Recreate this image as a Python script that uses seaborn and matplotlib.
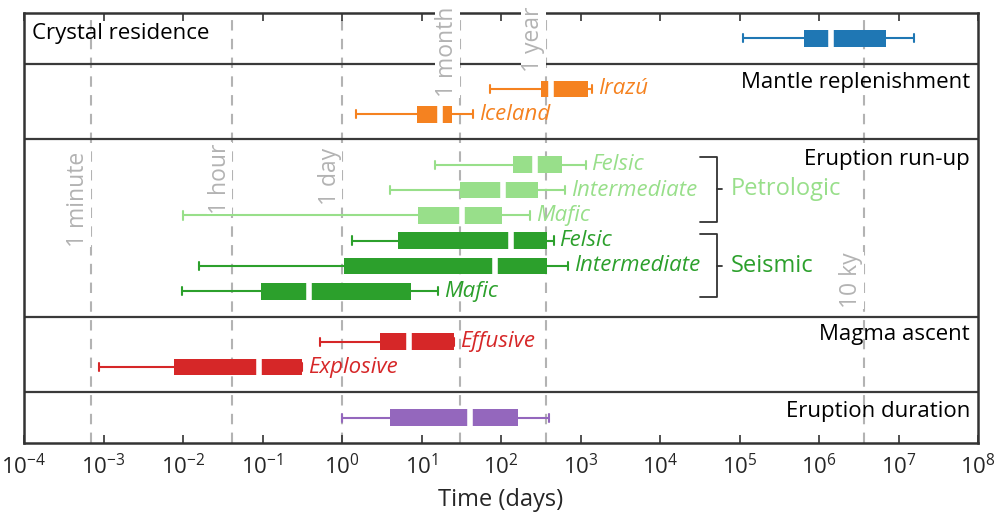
import numpy as np
import pandas as pd
import seaborn as sns
import matplotlib.pyplot as plt
import matplotlib.transforms as mtransforms

# five-number summaries (min, q1, median, q3, max) in days
crystal = [1.1e5, 6.5e5, 1.42e6, 6.9e6, 1.55e7]
irazu = [73, 318, 426, 1240, 1400]
iceland = [1.5, 8.7, 17, 24.4, 45]
petro_felsic = [14.8, 140, 270, 580, 1170]
petro_inter = [4.0, 30.5, 106, 290, 640]
petro_mafic = [0.0101, 9.1, 32.5, 102, 232]
seis_felsic = [1.35, 5.1, 135, 376, 464]
seis_inter = [0.016, 1.06, 85, 376, 700]
seis_mafic = [0.0098, 0.095, 0.39, 7.3, 16.3]
effusive = [0.53, 3.0, 6.95, 26, 26]
explosive = [8.7e-4, 0.0076, 0.090, 0.317, 0.317]
duration = [1.0, 3.97, 40.5, 166, 404]

row_stats = [crystal, irazu, iceland, petro_felsic, petro_inter, petro_mafic,
             seis_felsic, seis_inter, seis_mafic, effusive, explosive, duration]
row_labels = [None, "Irazú", "Iceland", "Felsic", "Intermediate", "Mafic",
              "Felsic", "Intermediate", "Mafic", "Effusive", "Explosive", None]
row_slots = [1, 3, 4, 6, 7, 8, 9, 10, 11, 13, 14, 16]
row_colors = ["#1f77b4", "#f58220", "#f58220", "#98df8a", "#98df8a", "#98df8a",
              "#2ca02c", "#2ca02c", "#2ca02c", "#d62728", "#d62728", "#9467bd"]

panel_titles = ["Mantle replenishment", "Eruption run-up", "Magma ascent", "Eruption duration"]
panel_title_y = [2.73, 5.81, 12.73, 15.74]
separators = [2, 5, 12, 15]

ref_names = ["1 minute", "1 hour", "1 day", "1 month", "1 year", "10 ky"]
ref_days = [1 / 1440, 1 / 24, 1, 30.4, 365.25, 3.6525e6]
ref_label_y = [7.35, 6.54, 6.47, 1.54, 1.03, 10.56]

records = []
for stats, slot, color in zip(row_stats, row_slots, row_colors):
    for v in stats:
        records.append({"days": v, "slot": slot, "color": color})
df = pd.DataFrame(records)

sns.set_theme(style="white")
plt.rcParams["font.family"] = ["Open Sans", "DejaVu Sans"]

fig = plt.figure(figsize=(9.99, 5.19), dpi=100)
ax = fig.add_axes([24 / 999, 76 / 519, 954 / 999, 430 / 519])
ax.set_xscale("log")

for color, sub in df.groupby("color", sort=False):
    sns.boxplot(data=sub, x="days", y="slot", orient="y", native_scale=True,
                color=color, linecolor=color, saturation=1, whis=(0, 100),
                width=0.66, linewidth=1.5, showfliers=False,
                boxprops=dict(linewidth=0),
                medianprops=dict(color="white", linewidth=4, solid_capstyle="butt"),
                ax=ax, zorder=3)

# reference time lines
grey = "#b3b3b3"
for d, name, ly in zip(ref_days, ref_names, ref_label_y):
    ax.axvline(d, color=grey, lw=1.5, dashes=(5, 4), zorder=0.5)
    ax.annotate(name, (d, ly), xytext=(-9, 0), textcoords="offset points",
                rotation=90, ha="center", va="center", color=grey, fontsize=16.5,
                bbox=dict(facecolor="white", edgecolor="none", pad=0.5), zorder=5)

for s in separators:
    ax.axhline(s, color="#3a3a3a", lw=1.6, zorder=2)

# row labels
for stats, slot, color, lab in zip(row_stats, row_slots, row_colors, row_labels):
    if lab:
        ax.annotate(lab, (stats[-1], slot), xytext=(4, 0), textcoords="offset points",
                    ha="left", va="center", color=color, fontsize=16, style="italic")

# panel titles
blend = mtransforms.blended_transform_factory(ax.transAxes, ax.transData)
ax.text(0.0084, 0.8, "Crystal residence", transform=blend, ha="left", va="center",
        fontsize=16, color="black")
for t, y in zip(panel_titles, panel_title_y):
    ax.text(0.9916, y, t, transform=blend, ha="right", va="center", fontsize=16,
            color="black")

# brackets
for y0, y1, txt, c in [(5.69, 8.26, "Petrologic", "#98df8a"),
                       (8.74, 11.23, "Seismic", "#2ca02c")]:
    ax.plot([3.2e4, 5.2e4, 5.2e4, 3.2e4], [y0, y0, y1, y1], color="#333333", lw=1.3,
            zorder=4)
    ym = (y0 + y1) / 2
    ax.plot([5.2e4, 6.0e4], [ym, ym], color="#333333", lw=1.3, zorder=4)
    ax.text(7.8e4, ym, txt, ha="left", va="center", fontsize=17, color=c)

ax.set_xlim(1e-4, 1e8)
ax.set_ylim(17, 0)
ax.set_yticks([])
ax.set_ylabel("")
ax.set_xticks(10.0 ** np.arange(-4, 9))
ax.xaxis.set_minor_locator(plt.NullLocator())
ax.tick_params(axis="x", which="major", direction="in", top=True, bottom=True,
               length=6, width=1.2, labelsize=16, color="#333333", pad=8)
ax.set_xlabel("Time (days)", fontsize=17, labelpad=6)
for sp in ax.spines.values():
    sp.set_visible(True)
    sp.set_color("#333333")
    sp.set_linewidth(1.8)

fig.savefig("out.png", dpi=100)
